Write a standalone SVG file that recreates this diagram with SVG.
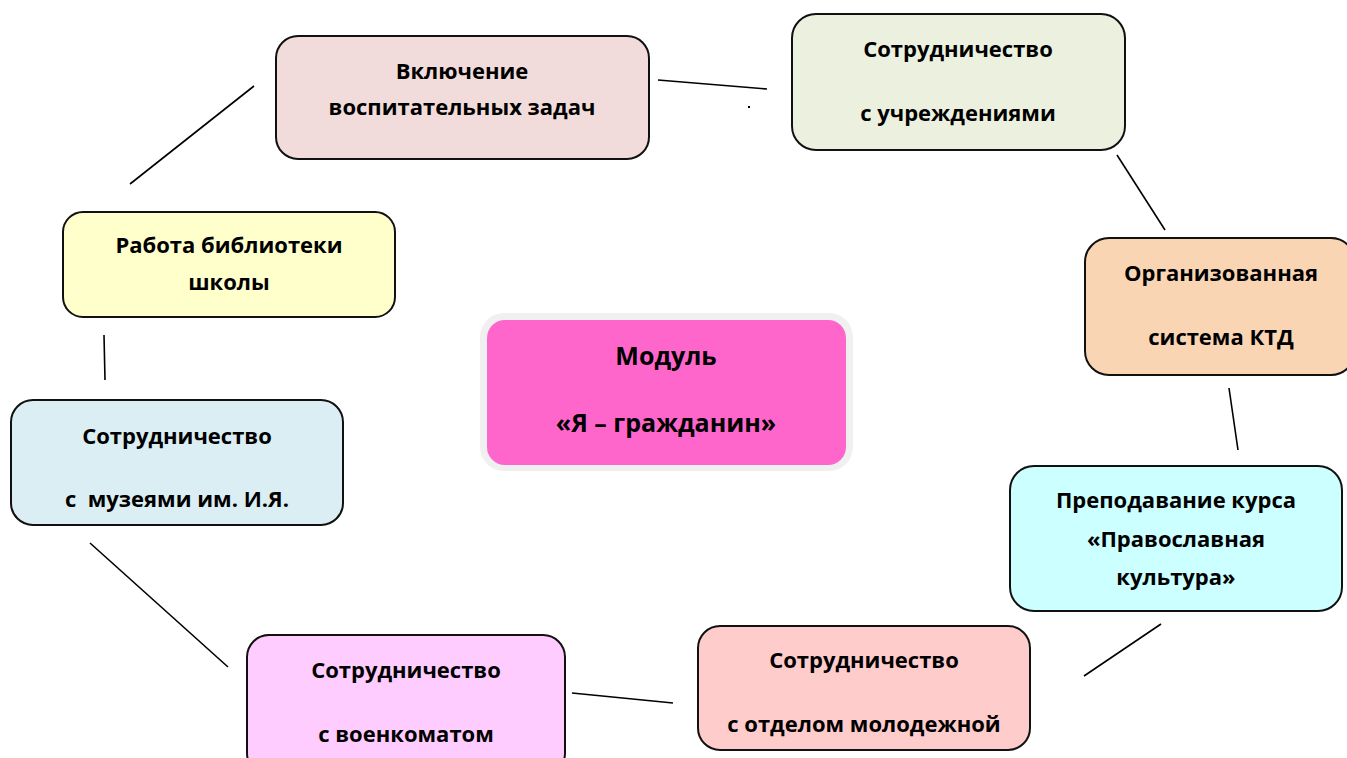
<svg xmlns="http://www.w3.org/2000/svg" width="1347" height="758" viewBox="0 0 1347 758">
<style>
.box{stroke:#111;stroke-width:2}
.t{font-family:"Open Sans","Noto Sans","Liberation Sans",sans-serif;font-weight:bold;font-size:22px;fill:#000;text-anchor:middle}
.big{font-size:25px}
.ln{stroke:#000;stroke-width:1.6;fill:none}
</style>
<rect width="1347" height="758" fill="#fff"/>
<g id="connectors">
<line class="ln" x1="658" y1="80" x2="767" y2="89"/>
<line class="ln" x1="1117" y1="155" x2="1165" y2="230"/>
<line class="ln" x1="1229" y1="388" x2="1238" y2="450"/>
<line class="ln" x1="1161" y1="624" x2="1084" y2="676"/>
<line class="ln" x1="673" y1="703" x2="572" y2="693"/>
<line class="ln" x1="228" y1="667" x2="90" y2="543"/>
<line class="ln" x1="104" y1="335" x2="105" y2="380"/>
<line class="ln" x1="130" y1="184" x2="254" y2="86"/>
<rect x="748" y="106" width="2" height="2" fill="#000"/>
</g>
<g id="center">
<rect x="480" y="313" width="373" height="158" rx="24" fill="#f0f0f0"/>
<rect x="487" y="320" width="359" height="145" rx="18" fill="#ff66cc"/>
<text class="t big" x="666" y="365">Модуль</text>
<text class="t big" x="666" y="432">«Я – гражданин»</text>
</g>
<g id="n1">
<rect class="box" x="276" y="36" width="373" height="123" rx="22" fill="#f2dcdb"/>
<text class="t" x="462" y="79">Включение</text>
<text class="t" x="462" y="115">воспитательных задач</text>
</g>
<g id="n2">
<rect class="box" x="792" y="14" width="333" height="136" rx="24" fill="#ebf1de"/>
<text class="t" x="958" y="57">Сотрудничество</text>
<text class="t" x="958" y="121">с учреждениями</text>
</g>
<g id="n3">
<rect class="box" x="1085" y="238" width="270" height="137" rx="24" fill="#fad5b4"/>
<text class="t" x="1221" y="281">Организованная</text>
<text class="t" x="1221" y="345">система КТД</text>
</g>
<g id="n4">
<rect class="box" x="1010" y="466" width="332" height="145" rx="24" fill="#ccffff"/>
<text class="t" x="1176" y="508">Преподавание курса</text>
<text class="t" x="1176" y="547">«Православная</text>
<text class="t" x="1176" y="585">культура»</text>
</g>
<g id="n5">
<rect class="box" x="698" y="626" width="332" height="124" rx="22" fill="#ffcccc"/>
<text class="t" x="864" y="668">Сотрудничество</text>
<text class="t" x="864" y="732">с отделом молодежной</text>
</g>
<g id="n6">
<rect class="box" x="247" y="635" width="318" height="140" rx="22" fill="#ffccff"/>
<text class="t" x="406" y="678">Сотрудничество</text>
<text class="t" x="406" y="742">с военкоматом</text>
</g>
<g id="n7">
<rect class="box" x="11" y="400" width="332" height="125" rx="22" fill="#dbeef4"/>
<text class="t" x="177" y="444">Сотрудничество</text>
<text class="t" x="177" y="507" xml:space="preserve">с  музеями им. И.Я.</text>
</g>
<g id="n8">
<rect class="box" x="63" y="212" width="332" height="105" rx="20" fill="#ffffcc"/>
<text class="t" x="229" y="253">Работа библиотеки</text>
<text class="t" x="229" y="290">школы</text>
</g>
</svg>
